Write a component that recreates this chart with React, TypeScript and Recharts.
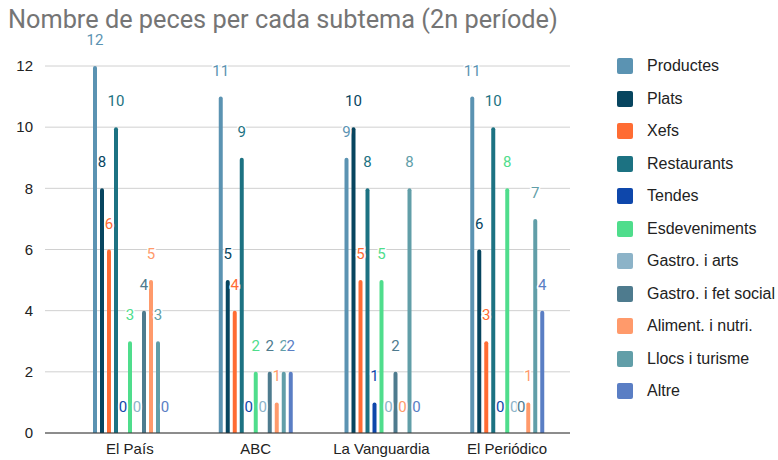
import { Bar, BarChart, CartesianGrid, LabelList, XAxis, YAxis } from "recharts";

const diaris = ["El País", "ABC", "La Vanguardia", "El Periódico"];

const productes = [12, 11, 9, 11];
const plats = [8, 5, 10, 6];
const xefs = [6, 4, 5, 3];
const restaurants = [10, 9, 8, 10];
const tendes = [0, 0, 1, 0];
const esdeveniments = [3, 2, 5, 8];
const gastroArts = [0, 0, 0, 0];
const gastroSocial = [4, 2, 2, 0];
const aliment = [5, 1, 0, 1];
const llocs = [3, 2, 8, 7];
const altre = [0, 2, 0, 4];

const yTicks = [0, 2, 4, 6, 8, 10, 12];

const SERIES = [
  { key: "productes", name: "Productes", color: "#5b93b2", values: productes },
  { key: "plats", name: "Plats", color: "#07455f", values: plats },
  { key: "xefs", name: "Xefs", color: "#ff6c33", values: xefs },
  { key: "restaurants", name: "Restaurants", color: "#1c7282", values: restaurants },
  { key: "tendes", name: "Tendes", color: "#0e47ab", values: tendes },
  { key: "esdeveniments", name: "Esdeveniments", color: "#4fdd8c", values: esdeveniments },
  { key: "gastroArts", name: "Gastro. i arts", color: "#8cb3c8", values: gastroArts },
  { key: "gastroSocial", name: "Gastro. i fet social", color: "#4e7b8e", values: gastroSocial },
  { key: "aliment", name: "Aliment. i nutri.", color: "#ff9a6b", values: aliment },
  { key: "llocs", name: "Llocs i turisme", color: "#619ea8", values: llocs },
  { key: "altre", name: "Altre", color: "#5a7ec4", values: altre },
];

const data = diaris.map((d, i) => {
  const row: Record<string, string | number> = { diari: d };
  SERIES.forEach((s) => {
    row[s.key] = s.values[i];
  });
  return row;
});

// zero bars get a hairline height so the label still has a position
const tinyForZero = (value: any) => (value === 0 ? 0.01 : 0);

const makeLabel = (color: string) => (props: any) => {
  const { x, y, width, height, value } = props;
  const top = Math.min(y, y + height);
  return (
    <text
      x={x + width / 2}
      y={top - 21}
      textAnchor="middle"
      fill={color}
      stroke="#fff"
      strokeWidth={3}
      paintOrder="stroke"
      fontSize={15}
      fontFamily="Roboto, sans-serif"
    >
      {value}
    </text>
  );
};

export default function App() {
  return (
    <div
      style={{
        position: "absolute",
        left: 0,
        top: 0,
        width: 778,
        height: 460,
        background: "#fff",
        fontFamily: "'Liberation Sans', Arial, sans-serif",
      }}
    >
      <div style={{ position: "absolute", left: 0, top: 0 }}>
        <BarChart
          width={778}
          height={460}
          data={data}
          margin={{ top: 66, right: 208, left: 0, bottom: 0 }}
          barSize={4}
          barGap={3}
          barCategoryGap="20%"
        >
          <CartesianGrid vertical={false} stroke="#d0d0d0" />
          <XAxis
            dataKey="diari"
            height={27}
            tickLine={false}
            axisLine={{ stroke: "#333" }}
            padding={{ left: 22, right: 0 }}
            tick={{ fill: "#222", fontSize: 15 }}
            tickMargin={4}
          />
          <YAxis
            width={45}
            domain={[0, 12]}
            ticks={yTicks}
            axisLine={false}
            tickLine={false}
            tick={{ fill: "#222", fontSize: 15 }}
            tickMargin={6}
          />
          {SERIES.map((s) => (
            <Bar
              key={s.key}
              dataKey={s.key}
              name={s.name}
              fill={s.color}
              radius={[2, 2, 0, 0]}
              minPointSize={tinyForZero}
              isAnimationActive={false}
            >
              <LabelList dataKey={s.key} content={makeLabel(s.color)} />
            </Bar>
          ))}
        </BarChart>
      </div>
      <div
        style={{
          position: "absolute",
          left: 8,
          top: 5,
          fontFamily: "Roboto, sans-serif",
          fontSize: 25.3,
          color: "#757575",
          whiteSpace: "nowrap",
        }}
      >
        Nombre de peces per cada subtema (2n període)
      </div>
      <div style={{ position: "absolute", left: 617, top: 50 }}>
        {SERIES.map((s) => (
          <div
            key={s.key}
            style={{ display: "flex", alignItems: "center", height: 32.5 }}
          >
            <div
              style={{
                width: 16,
                height: 16,
                borderRadius: 2,
                background: s.color,
                marginRight: 14,
              }}
            />
            <span style={{ fontSize: 16, color: "#222" }}>{s.name}</span>
          </div>
        ))}
      </div>
    </div>
  );
}
